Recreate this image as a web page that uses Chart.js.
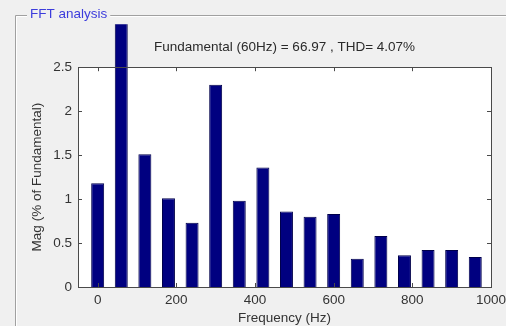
<!DOCTYPE html>
<html>
<head>
<meta charset="utf-8">
<script src="https://cdn.jsdelivr.net/npm/chart.js@4/dist/chart.umd.min.js"></script>
<style>
  html, body { margin: 0; padding: 0; background: #f0f0f0; }
  #wrap { position: relative; width: 506px; height: 326px; }
</style>
</head>
<body>
<div id="wrap"><canvas id="fft" width="506" height="326"></canvas></div>
<script>
// Harmonic spectrum (magnitude as % of the fundamental)
const frequencies = [0, 60, 120, 180, 240, 300, 360, 420, 480, 540, 600, 660, 720, 780, 840, 900, 960];
const magnitudes  = [1.18, 100, 1.51, 1.01, 0.73, 2.30, 0.98, 1.36, 0.86, 0.80, 0.83, 0.32, 0.58, 0.36, 0.42, 0.42, 0.34];
const xTicks = [0, 200, 400, 600, 800, 1000];
const yTicks = [0, 0.5, 1, 1.5, 2, 2.5];
const fundamentalHz = 60;
const fundamentalMag = 66.97;
const thdPercent = 4.07;

const FONT = 'Liberation Sans, Arial, sans-serif';
const FS = 13.5;

// Grey panel with an etched frame and the "FFT analysis" caption, white axes area
const panelPlugin = {
  id: 'panel',
  beforeDraw(chart) {
    const { ctx, chartArea: a } = chart;
    ctx.save();
    ctx.fillStyle = '#f0f0f0';
    ctx.fillRect(0, 0, chart.width, chart.height);
    // etched frame
    ctx.lineWidth = 1;
    ctx.font = FS + 'px ' + FONT;
    const cap = 'FFT analysis';
    const capX = 30;
    const capW = ctx.measureText(cap).width;
    const drawFrame = (off, color) => {
      ctx.strokeStyle = color;
      ctx.beginPath();
      ctx.moveTo(15.5 + off, chart.height);
      ctx.lineTo(15.5 + off, 15.5 + off);
      ctx.lineTo(capX - 3, 15.5 + off);
      ctx.moveTo(capX + capW + 3, 15.5 + off);
      ctx.lineTo(chart.width, 15.5 + off);
      ctx.stroke();
    };
    drawFrame(0, '#a0a0a0');
    drawFrame(1, '#ffffff');
    ctx.fillStyle = '#3c3cdc';
    ctx.textBaseline = 'middle';
    ctx.textAlign = 'left';
    ctx.fillText(cap, capX, 14);
    // axes background
    ctx.fillStyle = '#ffffff';
    ctx.fillRect(a.left, a.top, a.right - a.left, a.bottom - a.top);
    ctx.restore();
  },
  afterDatasetsDraw(chart) {
    const { ctx, chartArea: a, scales } = chart;
    const tl = 4;
    ctx.save();
    ctx.strokeStyle = '#4a4a4a';
    ctx.lineWidth = 1;
    ctx.beginPath();
    xTicks.forEach(v => {
      const x = Math.round(scales.x.getPixelForValue(v)) + 0.5;
      ctx.moveTo(x, a.bottom); ctx.lineTo(x, a.bottom - tl);
      ctx.moveTo(x, a.top); ctx.lineTo(x, a.top + tl);
    });
    yTicks.forEach(v => {
      const y = Math.round(scales.y.getPixelForValue(v)) + 0.5;
      ctx.moveTo(a.left, y); ctx.lineTo(a.left + tl, y);
      ctx.moveTo(a.right, y); ctx.lineTo(a.right - tl, y);
    });
    ctx.stroke();
    ctx.strokeRect(Math.round(a.left) + 0.5, Math.round(a.top) + 0.5,
                   Math.round(a.right - a.left), Math.round(a.bottom - a.top));
    ctx.restore();
  }
};

new Chart(document.getElementById('fft'), {
  type: 'bar',
  data: {
    datasets: [{
      data: frequencies.map((f, i) => ({ x: f, y: magnitudes[i] })),
      backgroundColor: '#000080',
      borderColor: '#00004a',
      borderWidth: 1,
      borderSkipped: 'bottom',
      barPercentage: 0.55,
      categoryPercentage: 1,
      clip: { left: 0, top: 43, right: 0, bottom: 0 }
    }]
  },
  options: {
    responsive: false,
    animation: false,
    devicePixelRatio: 1,
    layout: { padding: { top: 0, right: 15, bottom: 0, left: 0 } },
    plugins: {
      legend: { display: false },
      tooltip: { enabled: false },
      title: {
        display: true,
        fullSize: false,
        text: `Fundamental (${fundamentalHz}Hz) = ${fundamentalMag} , THD= ${thdPercent}%`,
        color: '#2a2a2a',
        font: { family: FONT, size: FS, weight: 'normal' },
        padding: { top: 39, bottom: 12 }
      }
    },
    scales: {
      x: {
        type: 'linear',
        offset: false,
        min: -50,
        max: 1000,
        afterBuildTicks: s => { s.ticks = xTicks.map(v => ({ value: v })); },
        afterFit: s => { s.height = 39; s.paddingLeft = 0; s.paddingRight = 0; },
        grid: { display: false, drawTicks: false, offset: false },
        border: { display: false },
        ticks: {
          padding: 5,
          maxRotation: 0,
          autoSkip: false,
          color: '#333333',
          font: { family: FONT, size: FS },
          callback: v => String(v)
        },
        title: {
          display: true,
          text: 'Frequency (Hz)',
          color: '#333333',
          font: { family: FONT, size: FS },
          padding: { top: 0, bottom: 0 }
        }
      },
      y: {
        min: 0,
        max: 2.5,
        afterBuildTicks: s => { s.ticks = yTicks.map(v => ({ value: v })); },
        afterFit: s => { s.width = 78; s.paddingTop = 0; s.paddingBottom = 0; },
        grid: { display: false, drawTicks: false },
        border: { display: false },
        ticks: {
          padding: 6,
          autoSkip: false,
          color: '#333333',
          font: { family: FONT, size: FS },
          callback: v => String(v)
        },
        title: {
          display: true,
          text: 'Mag (% of Fundamental)',
          color: '#333333',
          font: { family: FONT, size: FS },
          padding: { top: 29, bottom: 0 }
        }
      }
    }
  },
  plugins: [panelPlugin]
});
</script>
</body>
</html>
